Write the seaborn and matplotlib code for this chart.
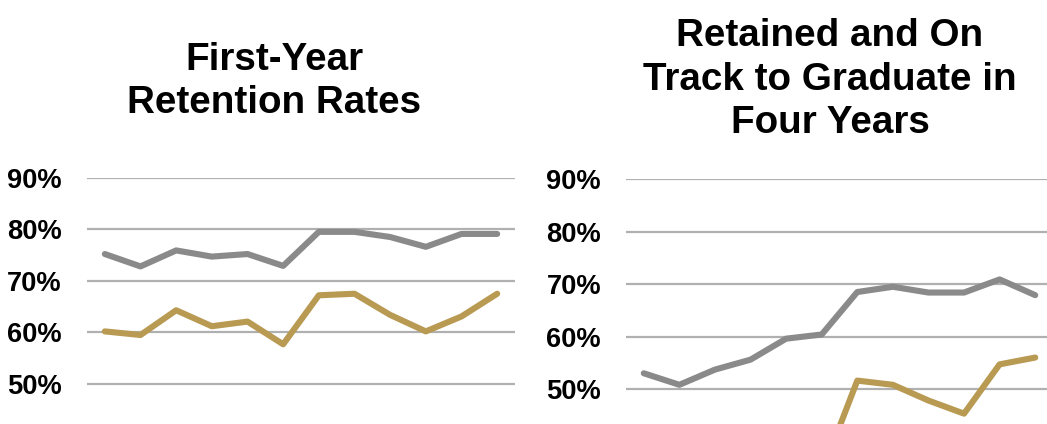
import numpy as np
import pandas as pd
import seaborn as sns
from matplotlib import pyplot as plt
from matplotlib.ticker import FuncFormatter

# Данные (значения в %)
periods = list(range(1, 13))
retention_gray = [75.2, 72.8, 75.9, 74.7, 75.2, 72.9, 79.5, 79.5, 78.5, 76.6, 79.1, 79.1]
retention_gold = [60.2, 59.5, 64.3, 61.2, 62.1, 57.7, 67.2, 67.5, 63.4, 60.2, 63.1, 67.5]
on_track_gray = [53.0, 50.8, 53.7, 55.6, 59.6, 60.4, 68.5, 69.5, 68.4, 68.4, 70.9, 67.9]
on_track_gold = [np.nan, np.nan, np.nan, np.nan, np.nan, 34.0, 51.6, 50.8, 47.8, 45.3, 54.7, 56.0]
y_ticks = [50, 60, 70, 80, 90]

titles = ["First-Year\nRetention Rates", "Retained and On\nTrack to Graduate in\nFour Years"]

GRAY = '#8a8a8a'
GOLD = '#b89a52'

sns.set_theme(style='white')
plt.rcParams['font.family'] = ['Liberation Sans', 'DejaVu Sans']
plt.rcParams['text.color'] = 'black'
plt.rcParams['ytick.color'] = 'black'

df_left = pd.DataFrame({'period': periods, 'gray': retention_gray, 'gold': retention_gold})
df_right = pd.DataFrame({'period': periods, 'gray': on_track_gray, 'gold': on_track_gold})

W, H = 1047, 424
fig = plt.figure(figsize=(W / 100, H / 100), dpi=100)

# положение осей в пикселях
ax_left = fig.add_axes([87 / W, 0, (515 - 87) / W, (H - 177.7) / H])
ax_right = fig.add_axes([626 / W, 0, (1053 - 626) / W, (H - 179.3) / H])

for ax, df, y90, y50 in [(ax_left, df_left, 177.7, 384.0), (ax_right, df_right, 179.3, 389.0)]:
    for yt in y_ticks:
        ax.axhline(yt, color='#b0b0b0', lw=1.6, zorder=0)
    sns.lineplot(data=df, x='period', y='gray', color=GRAY, lw=4.4, ax=ax)
    sns.lineplot(data=df, x='period', y='gold', color=GOLD, lw=4.4, ax=ax)
    px_per = (y50 - y90) / 40
    ax.set_ylim(50 - (H - y50) / px_per, 90)
    ax.set_xlim(0.5, 12.5)
    ax.set_yticks(y_ticks)
    ax.yaxis.set_major_formatter(FuncFormatter(lambda v, p: f'{v:.0f}%'))
    ax.tick_params(axis='y', length=0, pad=18, labelsize=19.6, labelcolor='black')
    for lbl in ax.get_yticklabels():
        lbl.set_fontweight('bold')
    ax.set_xticks([])
    ax.set_xlabel('')
    ax.set_ylabel('')
    sns.despine(ax=ax, left=True, bottom=True)
    ax.patch.set_alpha(0)

fig.text(274 / W, 1 - 113 / H, titles[0], ha='center', va='baseline',
         fontsize=27.8, fontweight='bold', linespacing=1.265, color='black')
fig.text(830 / W, 1 - 133 / H, titles[1], ha='center', va='baseline',
         fontsize=27.8, fontweight='bold', linespacing=1.265, color='black')

fig.savefig('out.png', dpi=100)
